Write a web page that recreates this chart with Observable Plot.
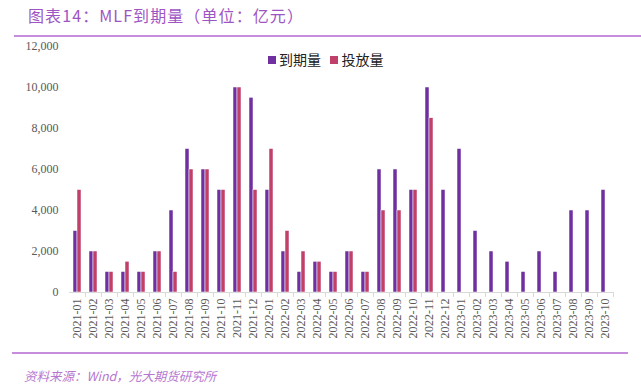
<!DOCTYPE html>
<html><head><meta charset="utf-8">
<script src="https://cdn.jsdelivr.net/npm/d3@7"></script>
<script src="https://cdn.jsdelivr.net/npm/@observablehq/plot@0.6"></script>
<style>
body{margin:0;background:#fff;}
#wrap{position:relative;width:641px;height:390px;overflow:hidden;font-family:"Noto Sans CJK SC","Noto Sans",sans-serif;}
#title{position:absolute;left:28px;top:3px;font-size:16px;color:#9d55c4;letter-spacing:1.1px;white-space:nowrap;}
#topline{position:absolute;left:14px;top:35px;width:627px;height:2px;background:#c58ddb;}
#botline{position:absolute;left:12px;top:352px;width:616px;height:2px;background:#c58ddb;}
#source{position:absolute;left:24px;top:366px;font-size:12.5px;font-style:italic;color:#b677cf;white-space:nowrap;}
#legend{position:absolute;left:268px;top:49px;font-size:14px;color:#222;white-space:nowrap;}
#legend span.sw{display:inline-block;width:8px;height:8px;margin-right:3px;vertical-align:1px;}
#chart{position:absolute;left:0;top:0;}
#chart svg text{font-family:"Liberation Serif","DejaVu Serif",serif !important;}
</style></head>
<body>
<div id="wrap">
  <div id="chart"></div>
  <div id="title">图表14：MLF到期量（单位：亿元）</div>
  <div id="topline"></div>
  <div id="legend"><span class="sw" style="background:#7030a0"></span>到期量&nbsp;&nbsp;&nbsp;<span class="sw" style="background:#c0406a"></span>投放量</div>
  <div id="botline"></div>
  <div id="source">资料来源：Wind，光大期货研究所</div>
</div>
<script>
const months = ["2021-01","2021-02","2021-03","2021-04","2021-05","2021-06","2021-07","2021-08","2021-09","2021-10","2021-11","2021-12",
"2022-01","2022-02","2022-03","2022-04","2022-05","2022-06","2022-07","2022-08","2022-09","2022-10","2022-11","2022-12",
"2023-01","2023-02","2023-03","2023-04","2023-05","2023-06","2023-07","2023-08","2023-09","2023-10"];
const maturity = [3000,2000,1000,1000,1000,2000,4000,7000,6000,5000,10000,9500,
5000,2000,1000,1500,1000,2000,1000,6000,6000,5000,10000,5000,
7000,3000,2000,1500,1000,2000,1000,4000,4000,5000];
const injection = [5000,2000,1000,1500,1000,2000,1000,6000,6000,5000,10000,5000,
7000,3000,2000,1500,1000,2000,1000,4000,4000,5000,8500,null,
null,null,null,null,null,null,null,null,null,null];
const seriesNames = ["到期量","投放量"];
const seriesColors = ["#7030a0","#c0406a"];
const yTicks = [0,2000,4000,6000,8000,10000,12000];

const data = [];
months.forEach((m,i)=>{
  data.push({month:m, series:seriesNames[0], value:maturity[i]});
  if (injection[i] != null) data.push({month:m, series:seriesNames[1], value:injection[i]});
});

const chart = Plot.plot({
  width: 641, height: 390,
  marginLeft: 68, marginRight: 27, marginTop: 46, marginBottom: 98,
  style: {fontFamily: "'Liberation Serif', 'DejaVu Serif', serif", fontSize: "12px", color: "#595959", background: "transparent"},
  fx: {domain: months, padding: 0, label: null},
  x: {domain: seriesNames, paddingInner: 0, paddingOuter: 1, axis: null},
  y: {domain: [0, 12000], ticks: yTicks, label: null, tickFormat: d3.format(","), tickSize: 0, tickPadding: 11},
  color: {domain: seriesNames, range: seriesColors},
  marks: [
    Plot.axisFx({anchor: "bottom", tickSize: 0, tickRotate: -90, tickPadding: 6, fontSize: 12, label: null, fill: "#595959"}),
    Plot.axisFx({anchor: "bottom", tickSize: 5, tickFormat: () => "", dx: 8, stroke: "#d9d9d9", label: null}),
    Plot.barY(data, {fx: "month", x: "series", y: "value", fill: "series", stroke: "#ffffff", strokeWidth: 0.5}),
    Plot.ruleY([0], {stroke: "#d9d9d9"})
  ]
});
document.getElementById("chart").appendChild(chart);
</script>
</body></html>
